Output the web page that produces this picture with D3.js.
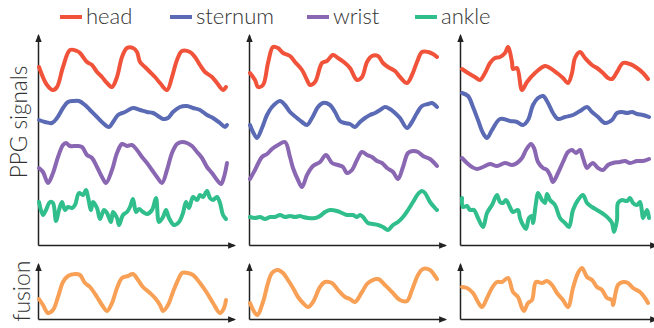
<!DOCTYPE html>
<html>
<head>
<meta charset="utf-8">
<script src="https://cdn.jsdelivr.net/npm/d3@7"></script>
<style>
  body { margin: 0; background: #fff; }
  text { font-family: Lato, "Open Sans", sans-serif; font-weight: 300; fill: #333; }
</style>
</head>
<body>
<svg id="chart" width="654" height="328"></svg>
<script>
// [sample, amplitude] for each of the three windows
const head1 = [[0,178],[8,160],[14,155],[18,158],[24,178],[31,195],[38,194],[41,192],[48,183],[53,180],[58,173],[63,168],[68,162],[73,158],[78,168],[83,188],[88,197],[94,197],[98,193],[101,183],[106,178],[111,173],[116,168],[121,162],[128,155],[133,168],[138,185],[143,194],[151,193],[156,188],[161,180],[166,173],[173,168],[178,162],[184,155],[187,158]];
const sternum1 = [[0,125],[6,123],[13,122],[18,127],[24,137],[29,143],[34,144],[40,144],[46,140],[51,135],[58,128],[64,122],[70,118],[74,123],[79,130],[86,133],[94,137],[101,135],[108,133],[114,132],[119,129],[124,126],[129,127],[134,133],[141,138],[148,139],[154,137],[161,135],[168,130],[174,127],[181,122],[186,118],[188,120]];
const wrist1 = [[0,77],[4,73],[9,62],[14,72],[19,88],[24,100],[27,102],[31,99],[38,99],[43,98],[48,90],[53,87],[58,78],[63,68],[67,62],[73,75],[78,92],[83,101],[88,99],[93,100],[98,95],[103,88],[108,82],[113,75],[118,68],[123,62],[128,75],[133,92],[138,101],[143,103],[148,102],[153,99],[158,93],[163,87],[168,78],[173,72],[178,65],[182,61],[185,68],[188,82]];
const ankle1 = [[0,43],[4,30],[7,35],[11,43],[14,42],[17,24],[20,35],[23,43],[26,35],[29,38],[33,37],[36,40],[40,52],[44,50],[47,55],[49,48],[52,35],[54,43],[58,37],[61,26],[65,35],[68,32],[72,23],[74,33],[78,27],[80,20],[84,30],[88,33],[91,38],[94,46],[97,33],[100,36],[104,33],[108,31],[113,35],[117,47],[120,23],[124,28],[127,35],[130,27],[135,20],[140,23],[144,32],[147,43],[150,37],[154,48],[158,45],[161,50],[164,48],[168,54],[171,47],[174,45],[178,48],[181,42],[184,30],[187,26]];

const head2 = [[0,172],[5,165],[8,158],[13,160],[18,182],[23,198],[28,197],[33,192],[40,189],[45,183],[52,175],[57,165],[60,160],[65,163],[72,182],[77,184],[83,190],[88,187],[95,182],[100,177],[107,165],[112,168],[117,183],[122,189],[128,189],[133,182],[138,178],[145,174],[150,168],[157,162],[162,170],[167,183],[172,193],[178,193],[183,191],[187,188]];
const sternum2 = [[0,120],[3,113],[7,107],[12,117],[17,130],[22,138],[30,144],[35,140],[40,133],[47,127],[52,123],[57,120],[62,127],[68,138],[73,142],[80,140],[85,133],[90,124],[95,122],[100,121],[105,118],[110,123],[115,127],[120,130],[125,132],[130,135],[135,138],[140,136],[145,132],[150,127],[157,117],[162,123],[167,132],[172,139],[178,141],[182,142],[187,138]];
const wrist2 = [[0,66],[5,75],[12,88],[17,91],[22,96],[28,100],[35,103],[40,88],[43,77],[48,65],[52,58],[57,70],[63,79],[70,83],[76,90],[82,82],[88,80],[93,78],[97,72],[102,75],[107,85],[112,93],[117,90],[122,88],[127,84],[132,82],[137,77],[143,73],[148,66],[153,78],[158,92],[163,94],[168,93],[173,89],[180,86],[187,79]];
const ankle2 = [[0,28],[5,27],[10,28],[15,26],[20,28],[25,28],[30,30],[35,28],[40,29],[45,28],[50,29],[53,28],[58,27],[65,27],[70,29],[75,33],[80,35],[87,34],[92,32],[97,30],[103,30],[107,28],[110,30],[113,28],[118,22],[123,21],[128,20],[133,18],[138,15],[143,20],[148,23],[153,28],[158,35],[163,43],[168,51],[172,54],[175,52],[180,43],[185,37],[187,35]];

const head3 = [[1,176],[7,172],[14,168],[19,165],[24,172],[29,182],[34,187],[39,188],[44,192],[47,198],[51,183],[52,176],[56,177],[61,155],[66,163],[74,172],[84,179],[89,177],[96,172],[102,167],[107,162],[111,172],[114,187],[119,193],[124,187],[131,180],[136,177],[142,172],[147,167],[151,166],[156,173],[162,182],[169,181],[176,177],[182,172],[187,166]];
const sternum3 = [[1,152],[7,149],[12,138],[17,125],[22,112],[26,107],[31,115],[39,126],[49,124],[56,123],[62,120],[67,125],[72,140],[77,147],[82,149],[87,142],[92,132],[97,126],[104,128],[112,130],[119,134],[126,138],[131,133],[137,128],[144,122],[151,125],[156,132],[161,133],[166,132],[171,133],[176,131],[182,130],[188,128]];
const wrist3 = [[1,87],[6,82],[11,78],[16,76],[22,78],[29,81],[36,79],[44,82],[51,80],[56,82],[61,87],[65,95],[70,101],[73,97],[77,83],[82,77],[86,75],[89,70],[92,63],[97,72],[102,83],[107,93],[111,95],[115,92],[119,95],[122,87],[126,77],[129,80],[132,82],[137,77],[142,75],[147,80],[152,82],[159,83],[164,84],[169,82],[176,84],[182,84],[188,86]];
const ankle3 = [[1,47],[2,38],[6,39],[9,35],[13,35],[17,27],[22,18],[26,32],[31,40],[36,50],[39,43],[42,42],[45,45],[48,40],[52,33],[57,35],[59,27],[62,20],[65,16],[68,27],[71,29],[72,22],[75,42],[77,52],[81,45],[84,42],[86,51],[89,45],[94,40],[99,27],[104,22],[108,18],[112,35],[117,45],[122,50],[126,42],[131,38],[136,35],[141,32],[145,29],[148,26],[151,22],[153,13],[156,25],[157,42],[161,45],[166,44],[169,47],[172,42],[176,40],[179,43],[181,33],[182,27],[186,35],[188,27]];

const fusion1 = [[0,20],[4,14],[9,6],[14,9],[19,22],[24,37],[29,43],[36,45],[41,44],[46,36],[51,32],[58,22],[63,14],[68,8],[73,16],[78,31],[83,41],[89,43],[94,45],[99,39],[104,32],[111,26],[116,21],[121,14],[124,8],[129,14],[134,27],[139,39],[143,46],[149,46],[154,44],[161,36],[168,26],[174,16],[181,6],[185,11],[187,19]];
const fusion2 = [[0,16],[7,4],[13,17],[18,36],[22,46],[28,49],[33,46],[38,39],[43,31],[48,22],[53,16],[58,12],[63,17],[70,32],[75,37],[82,36],[88,29],[95,22],[100,20],[105,17],[112,27],[118,36],[128,40],[135,34],[142,27],[150,19],[157,18],[162,29],[168,44],[173,50],[180,49],[185,43],[187,40]];
const fusion3 = [[1,32],[6,31],[12,26],[17,17],[21,12],[26,21],[31,31],[36,37],[41,37],[47,41],[52,27],[57,22],[61,11],[63,8],[67,16],[71,19],[75,37],[81,36],[86,38],[91,34],[96,26],[102,19],[107,12],[112,31],[117,46],[121,51],[126,42],[131,39],[136,32],[141,29],[146,21],[151,19],[152,14],[157,34],[162,37],[167,36],[172,31],[179,27],[184,21],[187,16]];

const sensors = ['head', 'sternum', 'wrist', 'ankle'];
const colors = {head: '#f1523a', sternum: '#5b6ab4', wrist: '#8a67b2', ankle: '#2fbe8c', fusion: '#f7a056'};
const windows = [
  {head: head1, sternum: sternum1, wrist: wrist1, ankle: ankle1, fusion: fusion1},
  {head: head2, sternum: sternum2, wrist: wrist2, ankle: ankle2, fusion: fusion2},
  {head: head3, sternum: sternum3, wrist: wrist3, ankle: ankle3, fusion: fusion3}
];

const svg = d3.select('#chart');
const colLeft = [39, 250, 461];
const colWidth = 187;

svg.append('defs').append('marker')
  .attr('id', 'arrow')
  .attr('viewBox', '0 0 10 10')
  .attr('refX', 8).attr('refY', 5)
  .attr('markerWidth', 8).attr('markerHeight', 8)
  .attr('markerUnits', 'userSpaceOnUse')
  .attr('orient', 'auto')
  .append('path')
  .attr('d', 'M0,1 L10,5 L0,9 Z')
  .attr('fill', '#222');

const yTop = d3.scaleLinear().domain([0, 210]).range([245, 35]);
const yBot = d3.scaleLinear().domain([0, 55]).range([319, 264]);

function drawAxes(g, x0, yScale) {
  const xa = d3.scaleLinear().domain([0, 1]).range([x0 - 1, x0 + 195]);
  const ya = d3.scaleLinear().domain([0, 1]).range(yScale.range());
  g.append('g')
    .attr('transform', 'translate(0,' + yScale.range()[0] + ')')
    .call(d3.axisBottom(xa).ticks(0).tickSizeOuter(0))
    .select('.domain')
    .attr('stroke', '#222').attr('stroke-width', 1.5)
    .attr('marker-end', 'url(#arrow)');
  g.append('g')
    .attr('transform', 'translate(' + (x0 - 1) + ',0)')
    .call(d3.axisLeft(ya).ticks(0).tickSizeOuter(0))
    .select('.domain')
    .attr('stroke', '#222').attr('stroke-width', 1.5)
    .attr('marker-end', 'url(#arrow)');
}

windows.forEach((w, i) => {
  const x = d3.scaleLinear().domain([0, colWidth]).range([colLeft[i], colLeft[i] + colWidth]);
  const g = svg.append('g');

  drawAxes(g, colLeft[i], yTop);
  drawAxes(g, colLeft[i], yBot);

  const lineTop = d3.line().x(d => x(d[0])).y(d => yTop(d[1])).curve(d3.curveCatmullRom.alpha(0.5));
  const lineBot = d3.line().x(d => x(d[0])).y(d => yBot(d[1])).curve(d3.curveCatmullRom.alpha(0.5));

  sensors.forEach(s => {
    g.append('path')
      .datum(w[s])
      .attr('d', lineTop)
      .attr('fill', 'none')
      .attr('stroke', colors[s])
      .attr('stroke-width', 4)
      .attr('stroke-linejoin', 'round')
      .attr('stroke-linecap', 'round');
  });

  g.append('path')
    .datum(w.fusion)
    .attr('d', lineBot)
    .attr('fill', 'none')
    .attr('stroke', colors.fusion)
    .attr('stroke-width', 4)
    .attr('stroke-linejoin', 'round')
    .attr('stroke-linecap', 'round');
});

// legend
const legendX = [60, 170, 307, 415];
const legend = svg.append('g');
sensors.forEach((s, i) => {
  legend.append('line')
    .attr('x1', legendX[i]).attr('x2', legendX[i] + 22)
    .attr('y1', 17).attr('y2', 17)
    .attr('stroke', colors[s]).attr('stroke-width', 4);
  legend.append('text')
    .attr('x', legendX[i] + 26).attr('y', 24)
    .attr('font-size', 22)
    .text(s);
});

// y labels
svg.append('text')
  .attr('transform', 'translate(27,122) rotate(-90)')
  .attr('text-anchor', 'middle')
  .attr('font-size', 22.5)
  .text('PPG signals');
svg.append('text')
  .attr('transform', 'translate(30,291) rotate(-90)')
  .attr('text-anchor', 'middle')
  .attr('font-size', 23)
  .text('fusion');
</script>
</body>
</html>
